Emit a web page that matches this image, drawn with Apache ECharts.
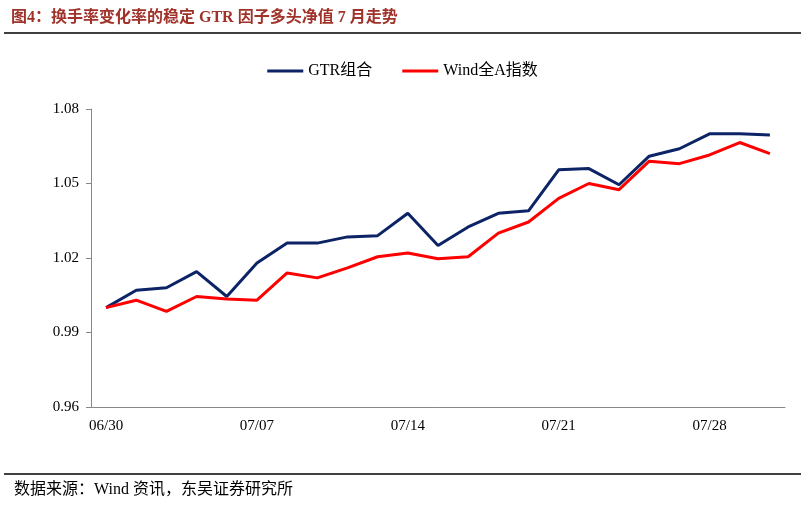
<!DOCTYPE html>
<html><head><meta charset="utf-8">
<script src="https://cdn.jsdelivr.net/npm/echarts@6/dist/echarts.min.js"></script>
<style>body{margin:0;background:#fff}#chart{width:805px;height:507px}</style>
</head><body><div id="chart"></div>
<script>
var dates = ['06/30','07/01','07/02','07/03','07/04','07/07','07/08','07/09','07/10','07/11',
  '07/14','07/15','07/16','07/17','07/18','07/21','07/22','07/23','07/24','07/25','07/28','07/29','07/30'];
var gtr = [1.000,1.007,1.008,1.0145,1.0045,1.018,1.026,1.026,1.0285,1.029,1.038,1.025,1.0325,1.038,1.039,
  1.0555,1.056,1.0495,1.061,1.064,1.070,1.070,1.0695];
var wind = [1.000,1.003,0.9985,1.0045,1.0035,1.003,1.014,1.012,1.016,1.0205,1.022,1.0197,1.0205,1.030,1.0345,
  1.044,1.050,1.0475,1.059,1.058,1.0615,1.0665,1.062];
var yTicks = [0.96, 0.99, 1.02, 1.05, 1.08];

var myChart = echarts.init(document.getElementById('chart'));
var font = 'Times New Roman, Liberation Serif, Noto Sans CJK SC';
var option = {
    animation: false,
    title: {
        text: '图4：换手率变化率的稳定 GTR 因子多头净值 7 月走势',
        left: 6, top: 5,
        textStyle: {color: '#a0322a', fontSize: 16, fontWeight: 'bold', fontFamily: 'Liberation Serif, Noto Sans CJK SC'}
    },
    graphic: [
        {type: 'line', shape: {x1: 4, y1: 33, x2: 801, y2: 33}, style: {stroke: '#000', lineWidth: 1.5}},
        {type: 'line', shape: {x1: 4, y1: 474, x2: 801, y2: 474}, style: {stroke: '#000', lineWidth: 1.5}},
        {type: 'text', left: 14, top: 482, style: {text: '数据来源：Wind 资讯，东吴证券研究所', fontSize: 16, fill: '#000', fontFamily: 'Liberation Serif, Noto Sans CJK SC'}}
    ],
    legend: {
        top: 58, left: 'center', itemGap: 30, itemWidth: 36, itemHeight: 3,
        icon: 'rect',
        textStyle: {fontSize: 16, color: '#000', fontFamily: font},
        data: ['GTR组合', 'Wind全A指数']
    },
    grid: {left: 91, right: 20, top: 109, bottom: 100},
    xAxis: {
        type: 'category', data: dates, boundaryGap: true,
        axisLine: {lineStyle: {color: '#888'}},
        axisTick: {interval: 4, lineStyle: {color: '#888'}, length: 5},
        axisLabel: {interval: 4, color: '#000', fontSize: 15, fontFamily: font, margin: 12}
    },
    yAxis: {
        type: 'value', min: 0.96, max: 1.08, interval: 0.03,
        axisLine: {show: true, lineStyle: {color: '#888'}},
        axisTick: {show: true, inside: false, lineStyle: {color: '#888'}},
        splitLine: {show: false},
        axisLabel: {color: '#000', fontSize: 15, fontFamily: font, margin: 12, formatter: function (v) { return v.toFixed(2); }}
    },
    series: [
        {name: 'GTR组合', type: 'line', data: gtr, symbol: 'none', color: '#0c2366', lineStyle: {width: 3, color: '#0c2366'}},
        {name: 'Wind全A指数', type: 'line', data: wind, symbol: 'none', color: '#ff0000', lineStyle: {width: 3, color: '#ff0000'}}
    ]
};
myChart.setOption(option);
</script></body></html>
